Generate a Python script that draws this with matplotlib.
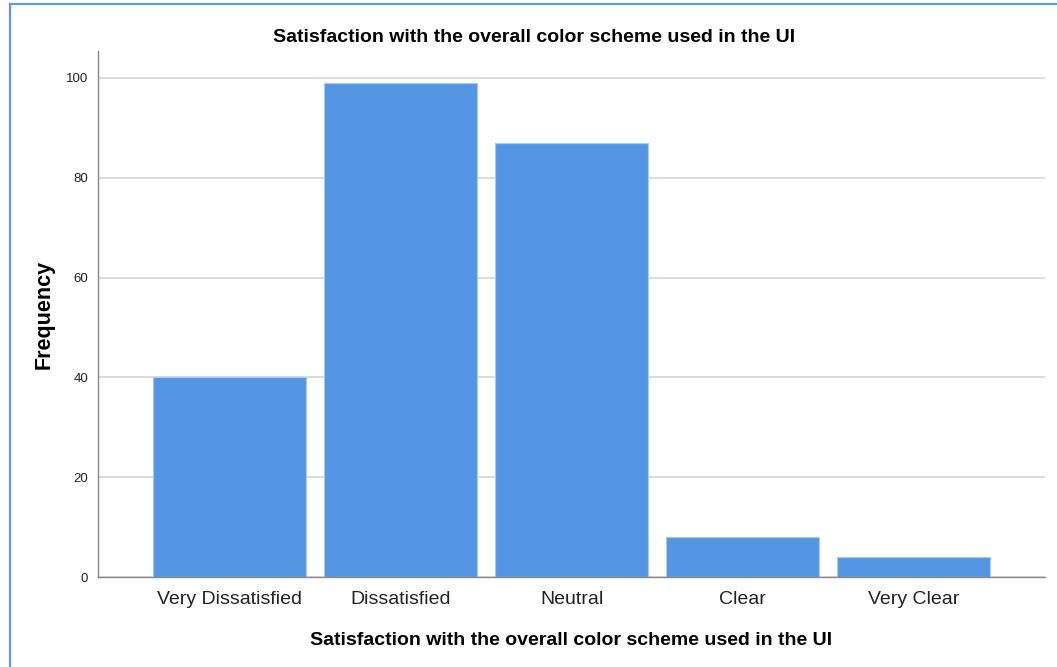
import matplotlib.pyplot as plt
from matplotlib.lines import Line2D

categories = ['Very Dissatisfied', 'Dissatisfied', 'Neutral', 'Clear', 'Very Clear']
frequency = [40, 99, 87, 8, 4]
y_ticks = [0, 20, 40, 60, 80, 100]

title = 'Satisfaction with the overall color scheme used in the UI'

plt.rcParams['font.family'] = ['Liberation Sans', 'DejaVu Sans']

fig = plt.figure(figsize=(10.57, 6.67), dpi=100)
ax = fig.add_axes([0.0927, 0.1349, 0.8960, 0.7886])

x = range(len(categories))
ax.bar(x, frequency, width=0.895, color='#5596e4', edgecolor='#a9c9f1',
       linewidth=0.8, zorder=2)

ax.set_xlim(-0.77, len(categories) - 1 + 0.77)
ax.set_ylim(0, 105.4)
ax.set_yticks(y_ticks)
ax.set_xticks(list(x))
ax.set_xticklabels(categories, fontsize=14, color='#222222')
ax.tick_params(axis='y', length=0, pad=7, labelsize=9.5, labelcolor='#222222')
ax.tick_params(axis='x', length=0, pad=10)

ax.grid(axis='y', color='#d6d6d6', linewidth=1.2, zorder=0)
ax.set_axisbelow(True)

for side in ['top', 'right']:
    ax.spines[side].set_visible(False)
for side in ['left', 'bottom']:
    ax.spines[side].set_color('#888888')
    ax.spines[side].set_linewidth(1.0)

# chart title sits centred over the whole figure
fig.text(534 / 1057, 1 - 37 / 667, title, fontsize=14, fontweight='bold',
         ha='center', va='center')
ax.set_xlabel(title, fontsize=14, fontweight='bold', labelpad=17)
ax.set_ylabel('Frequency', fontsize=15.5, fontweight='bold', labelpad=8)

# outer frame, only the top and left edges
fx = 9.8 / 1057
fy = 1 - 3.8 / 667
frame = dict(transform=fig.transFigure, color='#5b9bde', linewidth=1.6)
fig.add_artist(Line2D([fx, fx], [0, fy], **frame))
fig.add_artist(Line2D([fx, 1], [fy, fy], **frame))

fig.savefig('out.png', dpi=100)
